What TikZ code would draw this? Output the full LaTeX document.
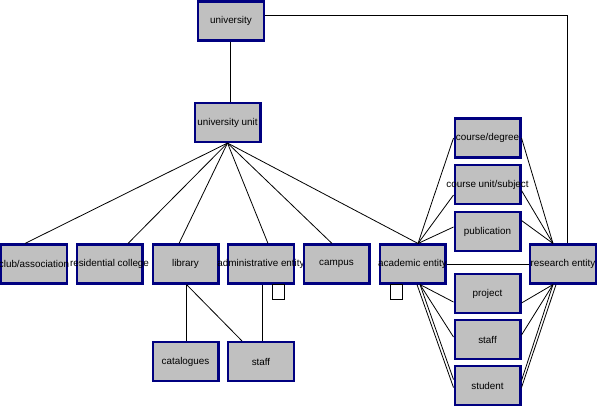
\documentclass[tikz,border=0pt]{standalone}
\usepackage{fontspec}
\setmainfont{Liberation Sans}
\usetikzlibrary{calc}
\definecolor{boxgray}{HTML}{C0C0C0}
\definecolor{boxblue}{HTML}{000080}
\newcommand{\lbl}[1]{\makebox[0pt]{#1}}

\begin{document}
\begin{tikzpicture}[x=0.75pt,y=-0.75pt,
        entity/.style={draw=boxblue, fill=boxgray, line width=1.6pt, minimum width=49.4pt,
            minimum height=29.2pt, inner sep=0pt, font=\fontsize{7.4}{8}\selectfont},
        link/.style={line width=0.6pt}]
        \useasboundingbox (0,0) rectangle (598,415);

        \node[entity] (univ) at (231,21) {\lbl{university}};
        \node[entity] (uunit) at (227.5,122.5) {\lbl{university unit}};

        \node[entity] (club) at (34,264) {\lbl{club/association}};
        \node[entity] (college) at (109.5,264) {\lbl{residential college}};
        \node[entity] (library) at (185.5,264) {\lbl{library}};
        \node[entity] (admin) at (261,264) {\lbl{administrative entity}};
        \node[entity] (campus) at (336.5,264) {\lbl{campus}};
        \node[entity] (academic) at (412.5,264) {\lbl{academic entity}};
        \node[entity] (research) at (563,264) {\lbl{research entity}};

        \node[entity] (catalogues) at (185.5,361.5) {\lbl{catalogues}};
        \node[entity] (libstaff) at (261,361.5) {\lbl{staff}};

        \node[entity] (degree) at (487.5,138) {\lbl{course/degree}};
        \node[entity] (courseunit) at (487.5,184.5) {\lbl{course unit/subject}};
        \node[entity] (publication) at (487.5,231.5) {\lbl{publication}};
        \node[entity] (project) at (487.5,293.5) {\lbl{project}};
        \node[entity] (staff) at (487.5,339.5) {\lbl{staff}};
        \node[entity] (student) at (487.5,385.5) {\lbl{student}};

        % top of the tree
        \draw[link] ($(univ.south)+(-1,0)$) -- ($(univ.south |- uunit.north)+(-1,0)$);
        \draw[link] ($(univ.east)+(0,-6)$) -| ($(research.north)+(4,0)$);

        % units
        \draw[link] (uunit.south) -- ($(club.north)+(-9,0)$);
        \draw[link] (uunit.south) -- ($(college.north)+(18.5,0)$);
        \draw[link] (uunit.south) -- ($(library.north)+(-6.5,0)$);
        \draw[link] (uunit.south) -- ($(admin.north)+(7,0)$);
        \draw[link] (uunit.south) -- ($(campus.north)+(-4.5,0)$);
        \draw[link] (uunit.south) -- ($(academic.north)+(5.5,0)$);

        % library and administration
        \draw[link] ($(library.south)+(1,0)$) -- ($(catalogues.north)+(1,0)$);
        \draw[link] ($(library.south)+(1,0)$) -- ($(libstaff.north)+(-19,0)$);
        \draw[link] ($(admin.south)+(1,0)$) -- ($(libstaff.north)+(1,0)$);
        \draw[link] ($(admin.south)+(11,0)$) rectangle ++(12,15);
        \draw[link] ($(academic.south)+(-22.5,0)$) rectangle ++(12,15);

        % academic entity
        \coordinate (acTop) at ($(academic.north)+(5.5,0)$);
        \coordinate (acBot) at ($(academic.south)+(7.5,0)$);
        \draw[link] (acTop) -- (degree.west);
        \draw[link] (acTop) -- ($(courseunit.west)+(0,10.5)$);
        \draw[link] (acTop) -- ($(publication.west)+(0,-4.5)$);
        \draw[link] (acBot) -- ($(project.west)+(0,8.5)$);
        \draw[link] (acBot) -- ($(staff.west)+(0,-2.5)$);
        \draw[link] (acBot) -- ($(student.west)+(0,-6)$);
        \draw[link] ($(acBot)+(-3,0)$) -- ($(student.west)+(0,2)$);
        \draw[link] (academic.east) -- (research.west);

        % research entity
        \coordinate (reTop) at ($(research.north)+(-10,0)$);
        \coordinate (reBot) at ($(research.south)+(-10,0)$);
        \draw[link] (reTop) -- (degree.east);
        \draw[link] (reTop) -- ($(courseunit.east)+(0,6)$);
        \draw[link] (reTop) -- ($(publication.east)+(0,-11)$);
        \draw[link] (reBot) -- ($(project.east)+(0,9.5)$);
        \draw[link] (reBot) -- ($(staff.east)+(0,-4.5)$);
        \draw[link] (reBot) -- ($(student.east)+(0,-5)$);
        \draw[link] ($(reBot)+(3,0)$) -- ($(student.east)+(0,2)$);
\end{tikzpicture}
\end{document}
